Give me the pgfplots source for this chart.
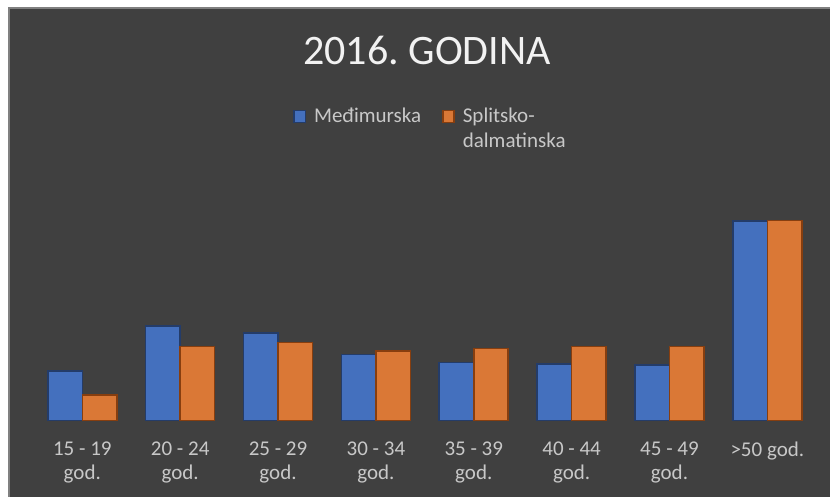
\documentclass[border=0pt]{standalone}
\usepackage{fontspec}
\setmainfont{Carlito}
\usepackage{pgfplots}
\pgfplotsset{compat=1.18}
\frenchspacing
\definecolor{BgDark}{RGB}{64,64,64}
\definecolor{FrameGray}{RGB}{128,128,128}
\definecolor{TitleCol}{RGB}{242,242,242}
\definecolor{LabelCol}{RGB}{200,200,200}
\definecolor{BlueFill}{RGB}{68,112,190}
\definecolor{BlueEdge}{RGB}{36,60,105}
\definecolor{OrangeFill}{RGB}{218,120,54}
\definecolor{OrangeEdge}{RGB}{135,62,15}

% share of each age group, percent
\pgfplotstableread{
x med spl
0 7.4  3.8
1 14.2 11.1
2 13.1 11.7
3 9.9  10.4
4 8.7  10.8
5 8.5  11.1
6 8.3  11.1
7 29.9 30.0
}\agedata

\begin{document}
\begin{tikzpicture}[x=1pt,y=1pt]
\useasboundingbox (0,0) rectangle (830,497);
\fill[white] (0,0) rectangle (830,497);
\fill[BgDark] (9,0) rectangle (830,489);
\draw[FrameGray, line width=1.2pt] (9,0) -- (9,489) -- (830,489);
\node[anchor=base, text=TitleCol, font=\fontsize{42}{50}\selectfont] at (427,432) {2016. GODINA};
\begin{axis}[
    at={(34.1,115)}, anchor=south west,
    scale only axis,
    width=782.9pt, height=213.12pt,
    xmin=-0.5, xmax=7.5,
    ymin=0, ymax=32,
    clip=false,
    ybar=0pt,
    bar width=34.5pt,
    axis line style={draw=none},
    major tick style={draw=none},
    ytick=\empty,
    xtick={0,...,7},
    xticklabels={{15 - 19\\god.},{20 - 24\\god.},{25 - 29\\god.},{30 - 34\\god.},
                 {35 - 39\\god.},{40 - 44\\god.},{45 - 49\\god.},{>50 god.}},
    xticklabel style={align=center, text=LabelCol, inner sep=0pt, yshift=-17pt,
                      font=\fontsize{21}{24}\selectfont},
    legend columns=2,
    legend style={draw=none, fill=none, inner sep=0pt, outer sep=0pt,
        at={(0.332,1.488)}, anchor=north west,
        font=\fontsize{21}{25}\selectfont, text=LabelCol,
        cells={anchor=base west, inner sep=0pt},
        /tikz/every odd column/.append style={column sep=6pt},
        /tikz/every even column/.append style={column sep=19pt}},
    legend image code/.code={\draw[#1, line width=1.5pt] (0.75pt,0.5pt) rectangle (12pt,12.5pt);},
]
\addplot[fill=BlueFill, draw=BlueEdge, line width=1.6pt] table[x=x, y=med] {\agedata};
\addlegendentry{Međimurska}
\addplot[fill=OrangeFill, draw=OrangeEdge, line width=1.6pt] table[x=x, y=spl] {\agedata};
\addlegendentry{\begin{tabular}[t]{@{}l@{}}Splitsko-\\dalmatinska\end{tabular}}
\end{axis}
\end{tikzpicture}
\end{document}
